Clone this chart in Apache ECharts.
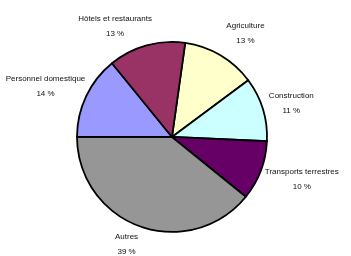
<!DOCTYPE html>
<html>
<head>
<meta charset="utf-8">
<script src="https://cdn.jsdelivr.net/npm/echarts@6/dist/echarts.min.js"></script>
<style>
html,body{margin:0;padding:0;background:#fff;}
#c{width:351px;height:256px;}
</style>
</head>
<body>
<div id="c"></div>
<script>
// Data
var categories = ['Agriculture', 'Construction', 'Transports terrestres', 'Autres', 'Personnel domestique', 'Hôtels et restaurants'];
var shares = [12.6, 10.9, 10.1, 39.2, 14.1, 13.1];

// Styling
var colors = ['#FFFFCC', '#CCFFFF', '#660066', '#969696', '#9999FF', '#993366'];
var labelNudge = [[25, -22], [28.5, -5.5], [41, 9], [-13.7, 17.8], [-40.7, -9.5], [-31.4, -19.5]];
var START = 82, RADIUS = 95, CX = 0.49, CY = 0.535;

var chart = echarts.init(document.getElementById('c'), null, {renderer: 'canvas'});
var total = shares.reduce(function (a, b) { return a + b; }, 0);

function midPoint(i) {
  var cum = 0;
  for (var k = 0; k < i; k++) cum += shares[k];
  var a = (START - (cum + shares[i] / 2) / total * 360) * Math.PI / 180;
  var cx = chart.getWidth() * CX, cy = chart.getHeight() * CY;
  return [cx + RADIUS * Math.cos(a), cy - RADIUS * Math.sin(a)];
}

chart.setOption({
  animation: false,
  backgroundColor: '#ffffff',
  series: [{
    type: 'pie',
    center: [(CX * 100) + '%', (CY * 100) + '%'],
    radius: RADIUS,
    startAngle: START,
    clockwise: true,
    avoidLabelOverlap: false,
    data: categories.map(function (c, i) {
      return { name: c, value: shares[i], itemStyle: { color: colors[i] } };
    }),
    itemStyle: { borderColor: '#000', borderWidth: 1.8 },
    label: {
      show: true,
      position: 'outside',
      fontFamily: 'Liberation Sans, Arial, sans-serif',
      fontSize: 8,
      lineHeight: 15,
      color: '#111',
      formatter: function (p) {
        return p.name + '\n' + Math.round(p.value / total * 100) + ' %';
      }
    },
    labelLine: { show: false },
    emphasis: { disabled: true },
    labelLayout: function (params) {
      var i = params.dataIndex;
      var p = midPoint(i);
      return {
        x: p[0] + labelNudge[i][0],
        y: p[1] + labelNudge[i][1],
        align: 'center',
        verticalAlign: 'middle'
      };
    }
  }]
});
</script>
</body>
</html>
